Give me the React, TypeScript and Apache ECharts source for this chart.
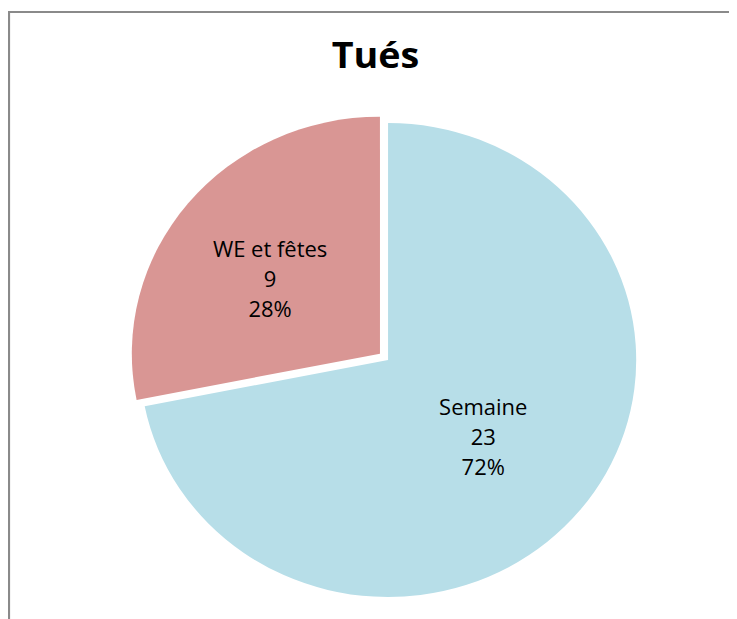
import React, { useEffect, useRef } from "react";
import * as echarts from "echarts";

const titleText = "Tués";
const categories = ["Semaine", "WE et fêtes"];
const values = [23, 9];
const colors = ["#B7DEE8", "#D99694"];

const STRETCH = 1.047;

export default function App() {
  const ref = useRef<HTMLDivElement>(null);
  useEffect(() => {
    if (!ref.current) return;
    const chart = echarts.init(ref.current, undefined, { renderer: "svg" });
    chart.setOption({
      animation: false,
      title: {
        text: titleText,
        left: 346,
        top: 23,
        textAlign: "center",
        textStyle: { fontFamily: "Open Sans", fontWeight: "bold", fontSize: 36, color: "#000" },
      },
      graphic: [
        {
          type: "rect",
          shape: { x: 1, y: 4, width: 1200, height: 1200 },
          style: { fill: "none", stroke: "#8a8a8a", lineWidth: 2 },
          silent: true,
        },
      ],
      series: [
        {
          type: "pie",
          center: [363, 352],
          radius: 237,
          startAngle: 90,
          clockwise: true,
          selectedMode: "single",
          selectedOffset: 10,
          percentPrecision: 0,
          label: {
            show: true,
            position: "inside",
            formatter: "{b}\n{c}\n{d}%",
            fontFamily: "Open Sans",
            fontSize: 21,
            lineHeight: 30,
            color: "#000",
          },
          labelLine: { show: false },
          labelLayout: (p: any) => (p.dataIndex === 1 ? { dx: -11, dy: 2 } : { dx: -3, dy: 0 }),
          emphasis: { disabled: true },
          data: categories.map((c, i) => ({
            name: c,
            value: values[i],
            selected: i === 1,
            itemStyle: { color: colors[i] },
          })),
        },
      ],
    });
    return () => chart.dispose();
  }, []);
  return (
    <div style={{ width: 729, height: 611, overflow: "hidden" }}>
      <div
        ref={ref}
        style={{
          width: 696,
          height: 611,
          transform: `scaleX(${STRETCH})`,
          transformOrigin: "0 0",
        }}
      />
    </div>
  );
}
